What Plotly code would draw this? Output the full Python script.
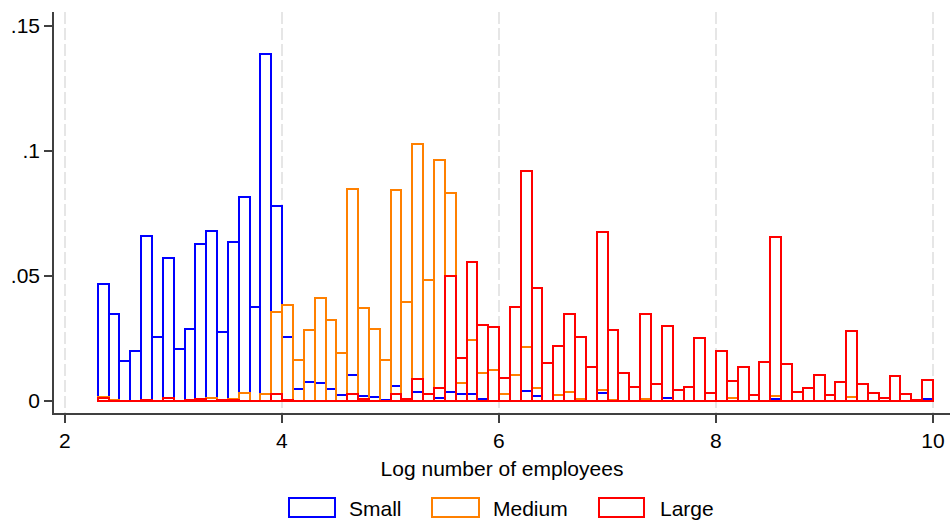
import numpy as np
import plotly.graph_objects as go

# Histogram bins (log employees): shared by all three size groups
bin_lo = 2.3026
bin_hi = 10.0
n_bins = 77

# Density per bin
small = [0.047, 0.035, 0.0159, 0.0201, 0.0659, 0.0255, 0.0573, 0.0208, 0.029, 0.063,
         0.068, 0.0275, 0.0637, 0.0817, 0.0375, 0.1388, 0.0781, 0.0257, 0.0048, 0.0078,
         0.0072, 0.0048, 0.0025, 0.0105, 0.0019, 0.0016, 0.0005, 0.0059, 0.0, 0.0037,
         0.0, 0.0014, 0.0035, 0.0028, 0.003, 0.0008, 0.0, 0.0, 0.0, 0.004,
         0.002, 0.0, 0.0, 0.0, 0.0, 0.0, 0.0033, 0.0, 0.0, 0.0,
         0.0, 0.0, 0.0013, 0.0, 0.0, 0.0, 0.0, 0.0, 0.0, 0.0,
         0.0, 0.0, 0.001, 0.0, 0.0, 0.0, 0.0, 0.0, 0.0, 0.0,
         0.0, 0.0, 0.0, 0.0, 0.0, 0.0, 0.0008]
medium = [0.0017, 0.0003, 0.0, 0.0, 0.0004, 0.0, 0.0, 0.0, 0.0, 0.0,
          0.0013, 0.0, 0.001, 0.0034, 0.0, 0.0027, 0.0355, 0.0386, 0.0164, 0.0284,
          0.0411, 0.0324, 0.0191, 0.0849, 0.0373, 0.0288, 0.0164, 0.0844, 0.0397, 0.1028,
          0.0484, 0.0964, 0.0833, 0.0071, 0.0246, 0.0113, 0.0125, 0.0029, 0.0104, 0.0218,
          0.0053, 0.0, 0.0024, 0.0038, 0.0009, 0.0, 0.0044, 0.0005, 0.0, 0.0,
          0.0009, 0.0, 0.0, 0.0, 0.0, 0.0, 0.0, 0.0, 0.0012, 0.0,
          0.0, 0.0, 0.002, 0.0, 0.0, 0.0, 0.0, 0.0, 0.0, 0.0017,
          0.0, 0.0, 0.0, 0.0, 0.0, 0.0, 0.0]
large = [0.0012, 0.0, 0.0, 0.0, 0.0003, 0.0, 0.0013, 0.0, 0.0004, 0.0009,
         0.0, 0.0004, 0.0006, 0.0, 0.0, 0.0, 0.0027, 0.0003, 0.0, 0.0,
         0.0, 0.0, 0.0, 0.0027, 0.0007, 0.0, 0.0, 0.0027, 0.0008, 0.009,
         0.0027, 0.0054, 0.0501, 0.0173, 0.0557, 0.0303, 0.0297, 0.0093, 0.0377, 0.0921,
         0.0451, 0.0153, 0.0221, 0.0347, 0.0255, 0.0137, 0.0677, 0.0284, 0.0111, 0.0057,
         0.0348, 0.0068, 0.0301, 0.0044, 0.0057, 0.0252, 0.0031, 0.0201, 0.008, 0.0137,
         0.0024, 0.0157, 0.0655, 0.0147, 0.0036, 0.0051, 0.0105, 0.0024, 0.0076, 0.028,
         0.0067, 0.0031, 0.0011, 0.01, 0.0027, 0.0004, 0.0084]

series_names = ["Small", "Medium", "Large"]
series_colors = ["#0000ff", "#ff8000", "#ff0000"]

x_ticks = [2, 4, 6, 8, 10]
y_ticks = [0, 0.05, 0.1, 0.15]
y_tick_text = ["0", ".05", ".1", ".15"]
x_title = "Log number of employees"

FONT = "Liberation Sans, Arial, sans-serif"
FS = 21
W, H = 950, 520
ML, MR, MT, MB = 54, 0, 12, 107

bw = (bin_hi - bin_lo) / n_bins
centers = bin_lo + bw * (np.arange(n_bins) + 0.5)

fig = go.Figure()
for name, vals, col in zip(series_names, [small, medium, large], series_colors):
    fig.add_trace(go.Bar(
        x=centers, y=vals, width=bw, name=name,
        marker=dict(color="rgba(255,255,255,0)", line=dict(color=col, width=2)),
        showlegend=False,
    ))

# bottom edges of the empty bins along the baseline
fig.add_trace(go.Scatter(
    x=[bin_lo, bin_hi], y=[0, 0], mode="lines",
    line=dict(color=series_colors[-1], width=2),
    showlegend=False, hoverinfo="skip",
))

axis_col = "#404040"
fig.update_layout(
    width=W, height=H,
    margin=dict(l=ML, r=MR, t=MT, b=MB),
    paper_bgcolor="white", plot_bgcolor="white",
    barmode="overlay", bargap=0,
    font=dict(family=FONT, size=FS, color="black"),
    xaxis=dict(
        range=[1.899, 10.157], tickvals=x_ticks,
        ticks="outside", ticklen=8, tickwidth=1.5, tickcolor=axis_col,
        showline=True, linecolor=axis_col, linewidth=1.5,
        showgrid=True, gridcolor="#e6e6e6", gridwidth=1.5, griddash="12px,4px",
        zeroline=False,
        tickfont=dict(size=FS),
        title=dict(text=x_title, font=dict(size=FS), standoff=10),
    ),
    yaxis=dict(
        range=[-0.0048, 0.1556], tickvals=y_ticks, ticktext=y_tick_text,
        ticks="outside", ticklen=8, tickwidth=1.5, tickcolor=axis_col,
        showline=True, linecolor=axis_col, linewidth=1.5,
        showgrid=False, zeroline=False,
        tickfont=dict(size=FS),
    ),
)

# legend row below the axis title
pw, ph = W - ML - MR, H - MT - MB
def px_x(p):
    return (p - ML) / pw
def px_y(p):
    return (H - MB - p) / ph

legend_boxes = [(289, 335), (432, 479), (599, 644)]
legend_text_x = [347, 491, 658]
for (x0, x1), tx, name, col in zip(legend_boxes, legend_text_x, series_names, series_colors):
    fig.add_shape(type="rect", xref="paper", yref="paper",
                  x0=px_x(x0), x1=px_x(x1), y0=px_y(517), y1=px_y(498),
                  line=dict(color=col, width=2), fillcolor="white")
    fig.add_annotation(xref="paper", yref="paper", x=px_x(tx), y=px_y(508),
                       text=name, showarrow=False, xanchor="left", yanchor="middle",
                       font=dict(size=FS, color="black"))

fig.write_html("out.html")
